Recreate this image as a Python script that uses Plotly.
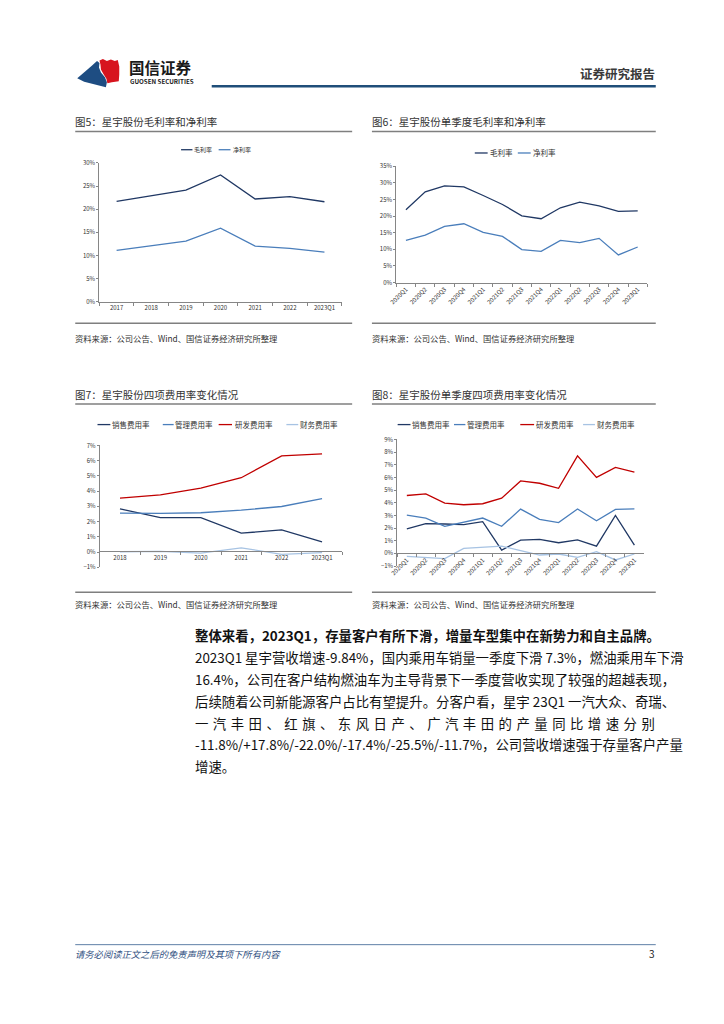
import plotly.graph_objects as go

W, H = 724, 1024
def X(px): return px / W
def Y(py): return 1 - py / H

# ---------------- data ----------------
years = ["2017", "2018", "2019", "2020", "2021", "2022", "2023Q1"]
gross_annual = [21.7, 22.9, 24.1, 27.4, 22.2, 22.7, 21.6]
net_annual = [11.1, 12.1, 13.1, 15.9, 12.0, 11.5, 10.7]

quarters = ["2020Q1", "2020Q2", "2020Q3", "2020Q4", "2021Q1", "2021Q2", "2021Q3",
            "2021Q4", "2022Q1", "2022Q2", "2022Q3", "2022Q4", "2023Q1"]
gross_q = [21.9, 27.3, 29.1, 28.8, 26.2, 23.5, 20.1, 19.2, 22.5, 24.2, 23.1, 21.4, 21.6]
net_q = [12.7, 14.3, 16.9, 17.7, 15.1, 13.9, 9.9, 9.4, 12.7, 12.0, 13.3, 8.3, 10.7]

years_exp = ["2018", "2019", "2020", "2021", "2022", "2023Q1"]
sell_a = [2.84, 2.26, 2.26, 1.24, 1.45, 0.67]
admin_a = [2.56, 2.54, 2.58, 2.75, 2.99, 3.51]
rd_a = [3.54, 3.75, 4.19, 4.88, 6.31, 6.44]
fin_a = [0.02, 0.04, -0.07, 0.28, -0.15, -0.04]

sell_q = [1.93, 2.35, 2.32, 2.27, 2.51, 0.26, 1.04, 1.10, 0.84, 1.07, 0.57, 3.00, 0.65]
admin_q = [3.03, 2.79, 2.14, 2.48, 2.79, 2.14, 3.50, 2.69, 2.43, 3.50, 2.58, 3.47, 3.52]
rd_q = [4.57, 4.70, 3.97, 3.84, 3.92, 4.36, 5.72, 5.54, 5.14, 7.70, 6.00, 6.79, 6.42]
fin_q = [-0.23, -0.34, -0.42, 0.39, 0.47, 0.57, 0.21, -0.13, -0.05, -0.31, 0.13, -0.52, -0.05]

margin_names = ["毛利率", "净利率"]
exp_names = ["销售费用率", "管理费用率", "研发费用率", "财务费用率"]

# ---------------- styles ----------------
FONT = "Noto Sans CJK SC"
NAVY = "#203864"
MBLUE = "#4A7EBB"
RED = "#C00000"
LBLUE = "#A7C3E3"
AXC = "#868686"
TXT = "#333333"
LW = 1.3

fig = go.Figure()

def line(x, y, color, xa, ya, name):
    fig.add_trace(go.Scatter(x=x, y=y, mode="lines", name=name, showlegend=False,
                             line=dict(color=color, width=LW), xaxis=xa, yaxis=ya,
                             hoverinfo="skip"))

line(years, gross_annual, NAVY, "x", "y", margin_names[0])
line(years, net_annual, MBLUE, "x", "y", margin_names[1])
line(quarters, gross_q, NAVY, "x2", "y2", margin_names[0])
line(quarters, net_q, MBLUE, "x2", "y2", margin_names[1])
for vals, col, nm in zip([sell_a, admin_a, rd_a, fin_a], [NAVY, MBLUE, RED, LBLUE], exp_names):
    line(years_exp, vals, col, "x3", "y3", nm)
for vals, col, nm in zip([sell_q, admin_q, rd_q, fin_q], [NAVY, MBLUE, RED, LBLUE], exp_names):
    line(quarters, vals, col, "x4", "y4", nm)

tickfont = dict(family=FONT, size=6, color=TXT)
common_x = dict(type="category", showline=True, linecolor=AXC, linewidth=1, ticks="outside",
                tickson="boundaries", ticklen=3, tickcolor=AXC, showgrid=False, zeroline=False,
                tickfont=tickfont, fixedrange=True)
common_y = dict(showline=True, linecolor=AXC, linewidth=1, ticks="outside", ticklen=2,
                tickcolor=AXC, showgrid=False, zeroline=False, ticksuffix="%",
                tickfont=tickfont, fixedrange=True)

fig.update_layout(
    width=W, height=H, margin=dict(l=0, r=0, t=0, b=0),
    paper_bgcolor="white", plot_bgcolor="white", showlegend=False,
    font=dict(family=FONT, color=TXT),
    xaxis=dict(common_x, domain=[X(92.3), X(337.5)], range=[-0.5, len(years) - 0.5], anchor="y"),
    yaxis=dict(common_y, domain=[Y(299.3), Y(159.3)], range=[0, 30], dtick=5, anchor="x"),
    xaxis2=dict(common_x, domain=[X(392.6), X(646.5)], range=[-0.5, len(quarters) - 0.5],
                anchor="y2", tickangle=-45),
    yaxis2=dict(common_y, domain=[Y(280), Y(162.7)], range=[0, 35], dtick=5, anchor="x2"),
    xaxis3=dict(common_x, domain=[X(92.8), X(338)], range=[-0.5, len(years_exp) - 0.5],
                anchor="free", position=Y(551.3)),
    yaxis3=dict(common_y, domain=[Y(567.3), Y(444.3)], range=[-1, 7], dtick=1, anchor="x3"),
    xaxis4=dict(common_x, domain=[X(393.7), X(643)], range=[-0.5, len(quarters) - 0.5],
                anchor="free", position=Y(553.3), tickangle=-45),
    yaxis4=dict(common_y, domain=[Y(566), Y(438.3)], range=[-1, 9], dtick=1, anchor="x4"),
)

shapes = []
ann = []

def hline(x0, x1, y, color, width):
    shapes.append(dict(type="line", xref="paper", yref="paper", x0=X(x0), x1=X(x1),
                       y0=Y(y), y1=Y(y), line=dict(color=color, width=width)))

def text(x, y, s, size, color=TXT, xanchor="left", bold=False, italic=False, yanchor="middle"):
    f = dict(family=FONT, size=size, color=color)
    if bold:
        f["weight"] = "bold"
    if italic:
        f["style"] = "italic"
    ann.append(dict(xref="paper", yref="paper", x=X(x), y=Y(y), text=s, showarrow=False,
                    xanchor=xanchor, yanchor=yanchor, font=f, borderpad=0))

# ---------------- header ----------------
def path(pts):
    return "M " + " L ".join(f"{X(a):.5f},{Y(b):.5f}" for a, b in pts) + " Z"

blue_logo = [(70, 74), (78, 67), (85, 61), (90, 56.5), (92.5, 58.5), (92, 63), (94, 68),
             (98, 73), (100, 78), (99, 83), (93, 81.5), (85, 79.5), (77, 77.5)]
red_logo = [(92.5, 56), (96, 54.5), (100, 56.5), (104, 55), (108, 56.5), (111, 55.5),
            (112.5, 62), (112.5, 70), (112, 77), (105, 78), (100.5, 79), (99.5, 74.5),
            (96.5, 69.5), (94, 65), (93.5, 60)]
shapes.append(dict(type="path", xref="paper", yref="paper", path=path(blue_logo),
                   fillcolor="#1E4D82", line=dict(width=0)))
shapes.append(dict(type="path", xref="paper", yref="paper", path=path(red_logo),
                   fillcolor="#D7141E", line=dict(width=0)))
text(121, 63, "国信证券", 15.5, color="#1a1a1a", bold=True)
text(122, 77.5, "GUOSEN SECURITIES", 6.2, color="#1a1a1a", bold=True)
hline(206, 655, 82, "#1F4E79", 2.5)
text(655, 69, "证券研究报告", 12.5, color="#3a3a3a", xanchor="right", bold=True)

# ---------------- chart frames ----------------
src = "资料来源：公司公告、Wind、国信证券经济研究所整理"
text(67, 118, "图5：星宇股份毛利率和净利率", 10.5)
text(367, 118, "图6：星宇股份单季度毛利率和净利率", 10.5)
hline(68, 348, 127.5, "#7F7F7F", 1.5)
hline(368, 655, 127.5, "#7F7F7F", 1.5)
hline(68, 348, 321, "#7F7F7F", 1.5)
hline(368, 655, 321, "#7F7F7F", 1.5)
text(67, 336, src, 8.3)
text(367, 336, src, 8.3)

text(67, 393, "图7：星宇股份四项费用率变化情况", 10.5)
text(367, 393, "图8：星宇股份单季度四项费用率变化情况", 10.5)
hline(68, 348, 402.5, "#7F7F7F", 1.5)
hline(368, 655, 402.5, "#7F7F7F", 1.5)
hline(68, 348, 592.5, "#7F7F7F", 1.5)
hline(368, 655, 592.5, "#7F7F7F", 1.5)
text(67, 604, src, 8.3)
text(367, 604, src, 8.3)

# ---------------- legends (drawn) ----------------
def legend(items, y, size):
    for (x0, x1, tx, label, col) in items:
        hline(x0, x1, y, col, LW)
        text(tx, y, label, size)

legend([(175, 186.5, 187.5, margin_names[0], NAVY),
        (213, 225, 226, margin_names[1], MBLUE)], 146, 6)
legend([(472, 485, 486.5, margin_names[0], NAVY),
        (515.5, 528.5, 530, margin_names[1], MBLUE)], 149.3, 7.5)
legend([(90.5, 103.5, 104.5, exp_names[0], NAVY),
        (156.5, 167.5, 168, exp_names[1], MBLUE),
        (213, 226.5, 228.5, exp_names[2], RED),
        (281.5, 293.5, 294.5, exp_names[3], LBLUE)], 423.3, 7.5)
legend([(394, 407, 408, exp_names[0], NAVY),
        (451, 462.5, 463.5, exp_names[1], MBLUE),
        (518, 532, 533, exp_names[2], RED),
        (581.5, 593.5, 594.5, exp_names[3], LBLUE)], 423.3, 7.5)

# ---------------- body text ----------------
body = [
    "整体来看，2023Q1，存量客户有所下滑，增量车型集中在新势力和自主品牌。",
    "2023Q1 星宇营收增速-9.84%，国内乘用车销量一季度下滑 7.3%，燃油乘用车下滑",
    "16.4%，公司在客户结构燃油车为主导背景下一季度营收实现了较强的超越表现，",
    "后续随着公司新能源客户占比有望提升。分客户看，星宇 23Q1 一汽大众、奇瑞、",
    "\u2004".join("一汽丰田、红旗、东风日产、广汽丰田的产量同比增速分别"),
    "-11.8%/+17.8%/-22.0%/-17.4%/-25.5%/-11.7%，公司营收增速强于存量客户产量",
    "增速。",
]
for i, s in enumerate(body):
    text(188, 636 + 22 * i, s, 13.4, color="#111111", bold=(i == 0))

# ---------------- footer ----------------
hline(68, 655, 948, "#5E7FA6", 1)
text(67, 957, "请务必阅读正文之后的免责声明及其项下所有内容", 9.3, color="#2F4F7F", italic=True)
text(655, 957, "3", 10, color="#222222", xanchor="right")

fig.update_layout(shapes=shapes, annotations=ann)
fig.write_html("out.html", config={"displayModeBar": False},
               post_script="document.body.style.margin='0';document.body.style.padding='0';")
